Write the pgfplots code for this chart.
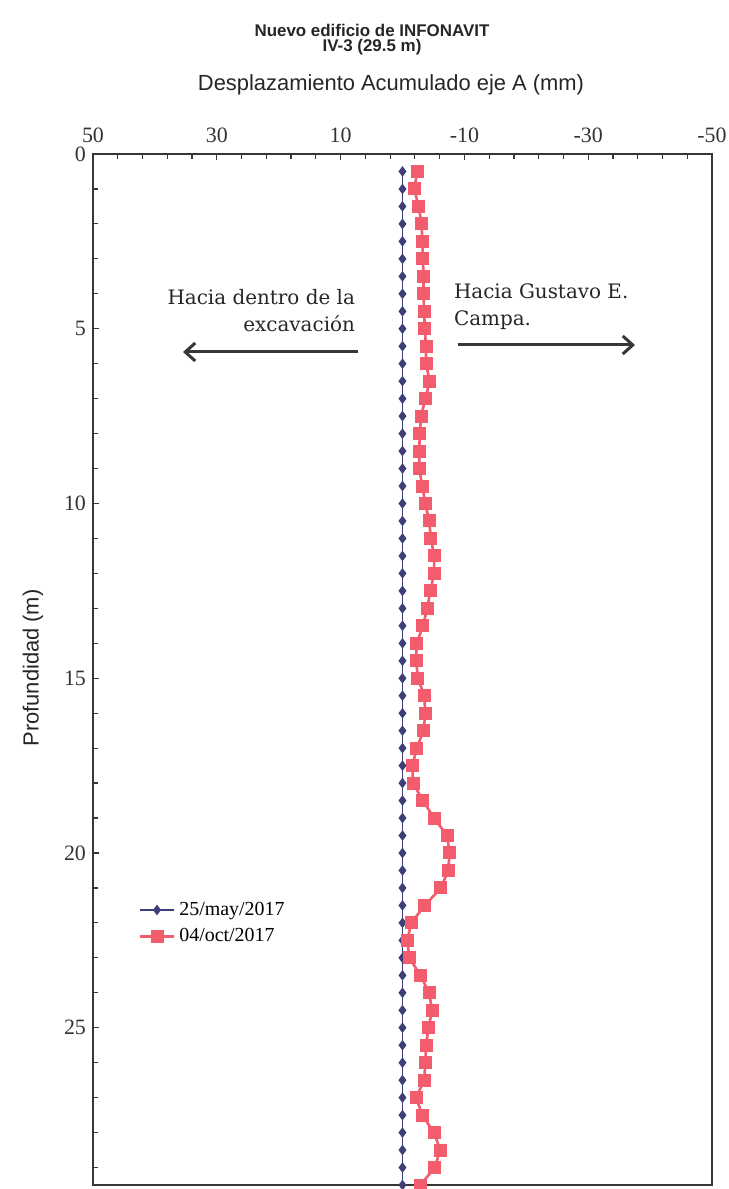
\documentclass[border=0pt]{standalone}
\usepackage{fontspec}
\setmainfont{Liberation Serif}
\newfontfamily\arialf{Liberation Sans}
\newfontfamily\annf{DejaVu Serif}
\usepackage{pgfplots}
\pgfplotsset{compat=1.18}
\usetikzlibrary{arrows.meta}
\definecolor{bluel}{RGB}{62,62,120}
\definecolor{redl}{RGB}{242,92,108}
\definecolor{axc}{RGB}{55,55,55}
\begin{document}
\begin{tikzpicture}
\path[use as bounding box] (0,0) rectangle (364.5bp,594.5bp);
\begin{axis}[
 at={(46.5bp,2bp)}, anchor=south west,
 scale only axis, width=309.5bp, height=515.5bp,
 x dir=reverse, y dir=reverse,
 xmin=-50, xmax=50, ymin=0, ymax=29.5,
 xtick={-50,-30,-10,10,30,50}, xticklabels={-50,-30,-10,10,30,50},
 minor xtick={-50,-46,...,50},
 ytick={0,5,10,15,20,25}, yticklabels={0,5,10,15,20,25},
 minor ytick={0,1,...,29},
 xtick pos=right, xticklabel pos=right,
 ytick pos=left,
 tick align=inside,
 major tick length=3bp, minor tick length=2.5bp,
 axis line style={axc, line width=0.8bp},
 every tick/.style={axc, line width=0.6bp},
 tick label style={font=\fontsize{11}{12}\selectfont, text=black!80},
 xticklabel style={yshift=2bp},
 clip=false,
 legend style={at={(0.07,0.254)}, anchor=west, draw=none, fill=none,
   font=\fontsize{10}{12}\selectfont, row sep=1bp, inner sep=1bp},
 legend cell align=left,
]
\addplot[color=bluel, line width=0.8bp, mark=diamond*, mark size=2bp,
  mark options={fill=bluel, draw=bluel}] coordinates {
(0,0.5) (0,1.0) (0,1.5) (0,2.0) (0,2.5) (0,3.0) (0,3.5) (0,4.0) (0,4.5) (0,5.0)
(0,5.5) (0,6.0) (0,6.5) (0,7.0) (0,7.5) (0,8.0) (0,8.5) (0,9.0) (0,9.5) (0,10.0)
(0,10.5) (0,11.0) (0,11.5) (0,12.0) (0,12.5) (0,13.0) (0,13.5) (0,14.0) (0,14.5) (0,15.0)
(0,15.5) (0,16.0) (0,16.5) (0,17.0) (0,17.5) (0,18.0) (0,18.5) (0,19.0) (0,19.5) (0,20.0)
(0,20.5) (0,21.0) (0,21.5) (0,22.0) (0,22.5) (0,23.0) (0,23.5) (0,24.0) (0,24.5) (0,25.0)
(0,25.5) (0,26.0) (0,26.5) (0,27.0) (0,27.5) (0,28.0) (0,28.5) (0,29.0) (0,29.5)
};
\addlegendentry{25/may/2017}
\addplot[color=redl, line width=1.3bp, mark=square*, mark size=2.6bp,
  mark options={fill=redl, draw=redl}] coordinates {
(-2.4,0.5) (-1.9,1.0) (-2.6,1.5) (-3.1,2.0) (-3.2,2.5) (-3.3,3.0) (-3.4,3.5) (-3.4,4.0) (-3.5,4.5) (-3.6,5.0)
(-3.8,5.5) (-3.8,6.0) (-4.4,6.5) (-3.7,7.0) (-3.0,7.5) (-2.8,8.0) (-2.7,8.5) (-2.7,9.0) (-3.2,9.5) (-3.7,10.0)
(-4.3,10.5) (-4.6,11.0) (-5.1,11.5) (-5.1,12.0) (-4.5,12.5) (-4.0,13.0) (-3.3,13.5) (-2.3,14.0) (-2.2,14.5) (-2.5,15.0)
(-3.5,15.5) (-3.7,16.0) (-3.4,16.5) (-2.3,17.0) (-1.6,17.5) (-1.7,18.0) (-3.3,18.5) (-5.1,19.0) (-7.2,19.5) (-7.6,20.0)
(-7.4,20.5) (-6.2,21.0) (-3.6,21.5) (-1.4,22.0) (-0.8,22.5) (-1.1,23.0) (-2.9,23.5) (-4.3,24.0) (-4.8,24.5) (-4.2,25.0)
(-3.8,25.5) (-3.7,26.0) (-3.5,26.5) (-2.2,27.0) (-3.2,27.5) (-5.1,28.0) (-6.1,28.5) (-5.2,29.0) (-2.9,29.5)
};
\addlegendentry{04/oct/2017}
\end{axis}
\node[font=\arialf\bfseries\fontsize{8.5}{10}\selectfont, text=black!85] at (186bp,579.5bp) {Nuevo edificio de INFONAVIT};
\node[font=\arialf\bfseries\fontsize{8.5}{10}\selectfont, text=black!85] at (186bp,571bp) {IV-3 (29.5 m)};
\node[font=\arialf\fontsize{11}{13}\selectfont, text=black!85] at (195.5bp,552bp) {Desplazamiento Acumulado eje A (mm)};
\node[font=\arialf\fontsize{11}{13}\selectfont, text=black!85, rotate=90] at (16.5bp,260.5bp) {Profundidad (m)};
\node[font=\annf\fontsize{10}{13.5}\selectfont, align=right, anchor=east, text=black!85] at (181bp,439bp) {Hacia dentro de la\\excavación};
\node[font=\annf\fontsize{10}{13.5}\selectfont, align=left, anchor=west, text=black!85] at (223.5bp,441bp) {Hacia Gustavo E.\\Campa.};
\draw[axc, line width=1.5bp, -{Straight Barb[length=5bp, width=9bp]}] (179bp,418.5bp) -- (91.5bp,418.5bp);
\draw[axc, line width=1.5bp, -{Straight Barb[length=5bp, width=9bp]}] (229bp,422bp) -- (317.5bp,422bp);
\end{tikzpicture}
\end{document}
